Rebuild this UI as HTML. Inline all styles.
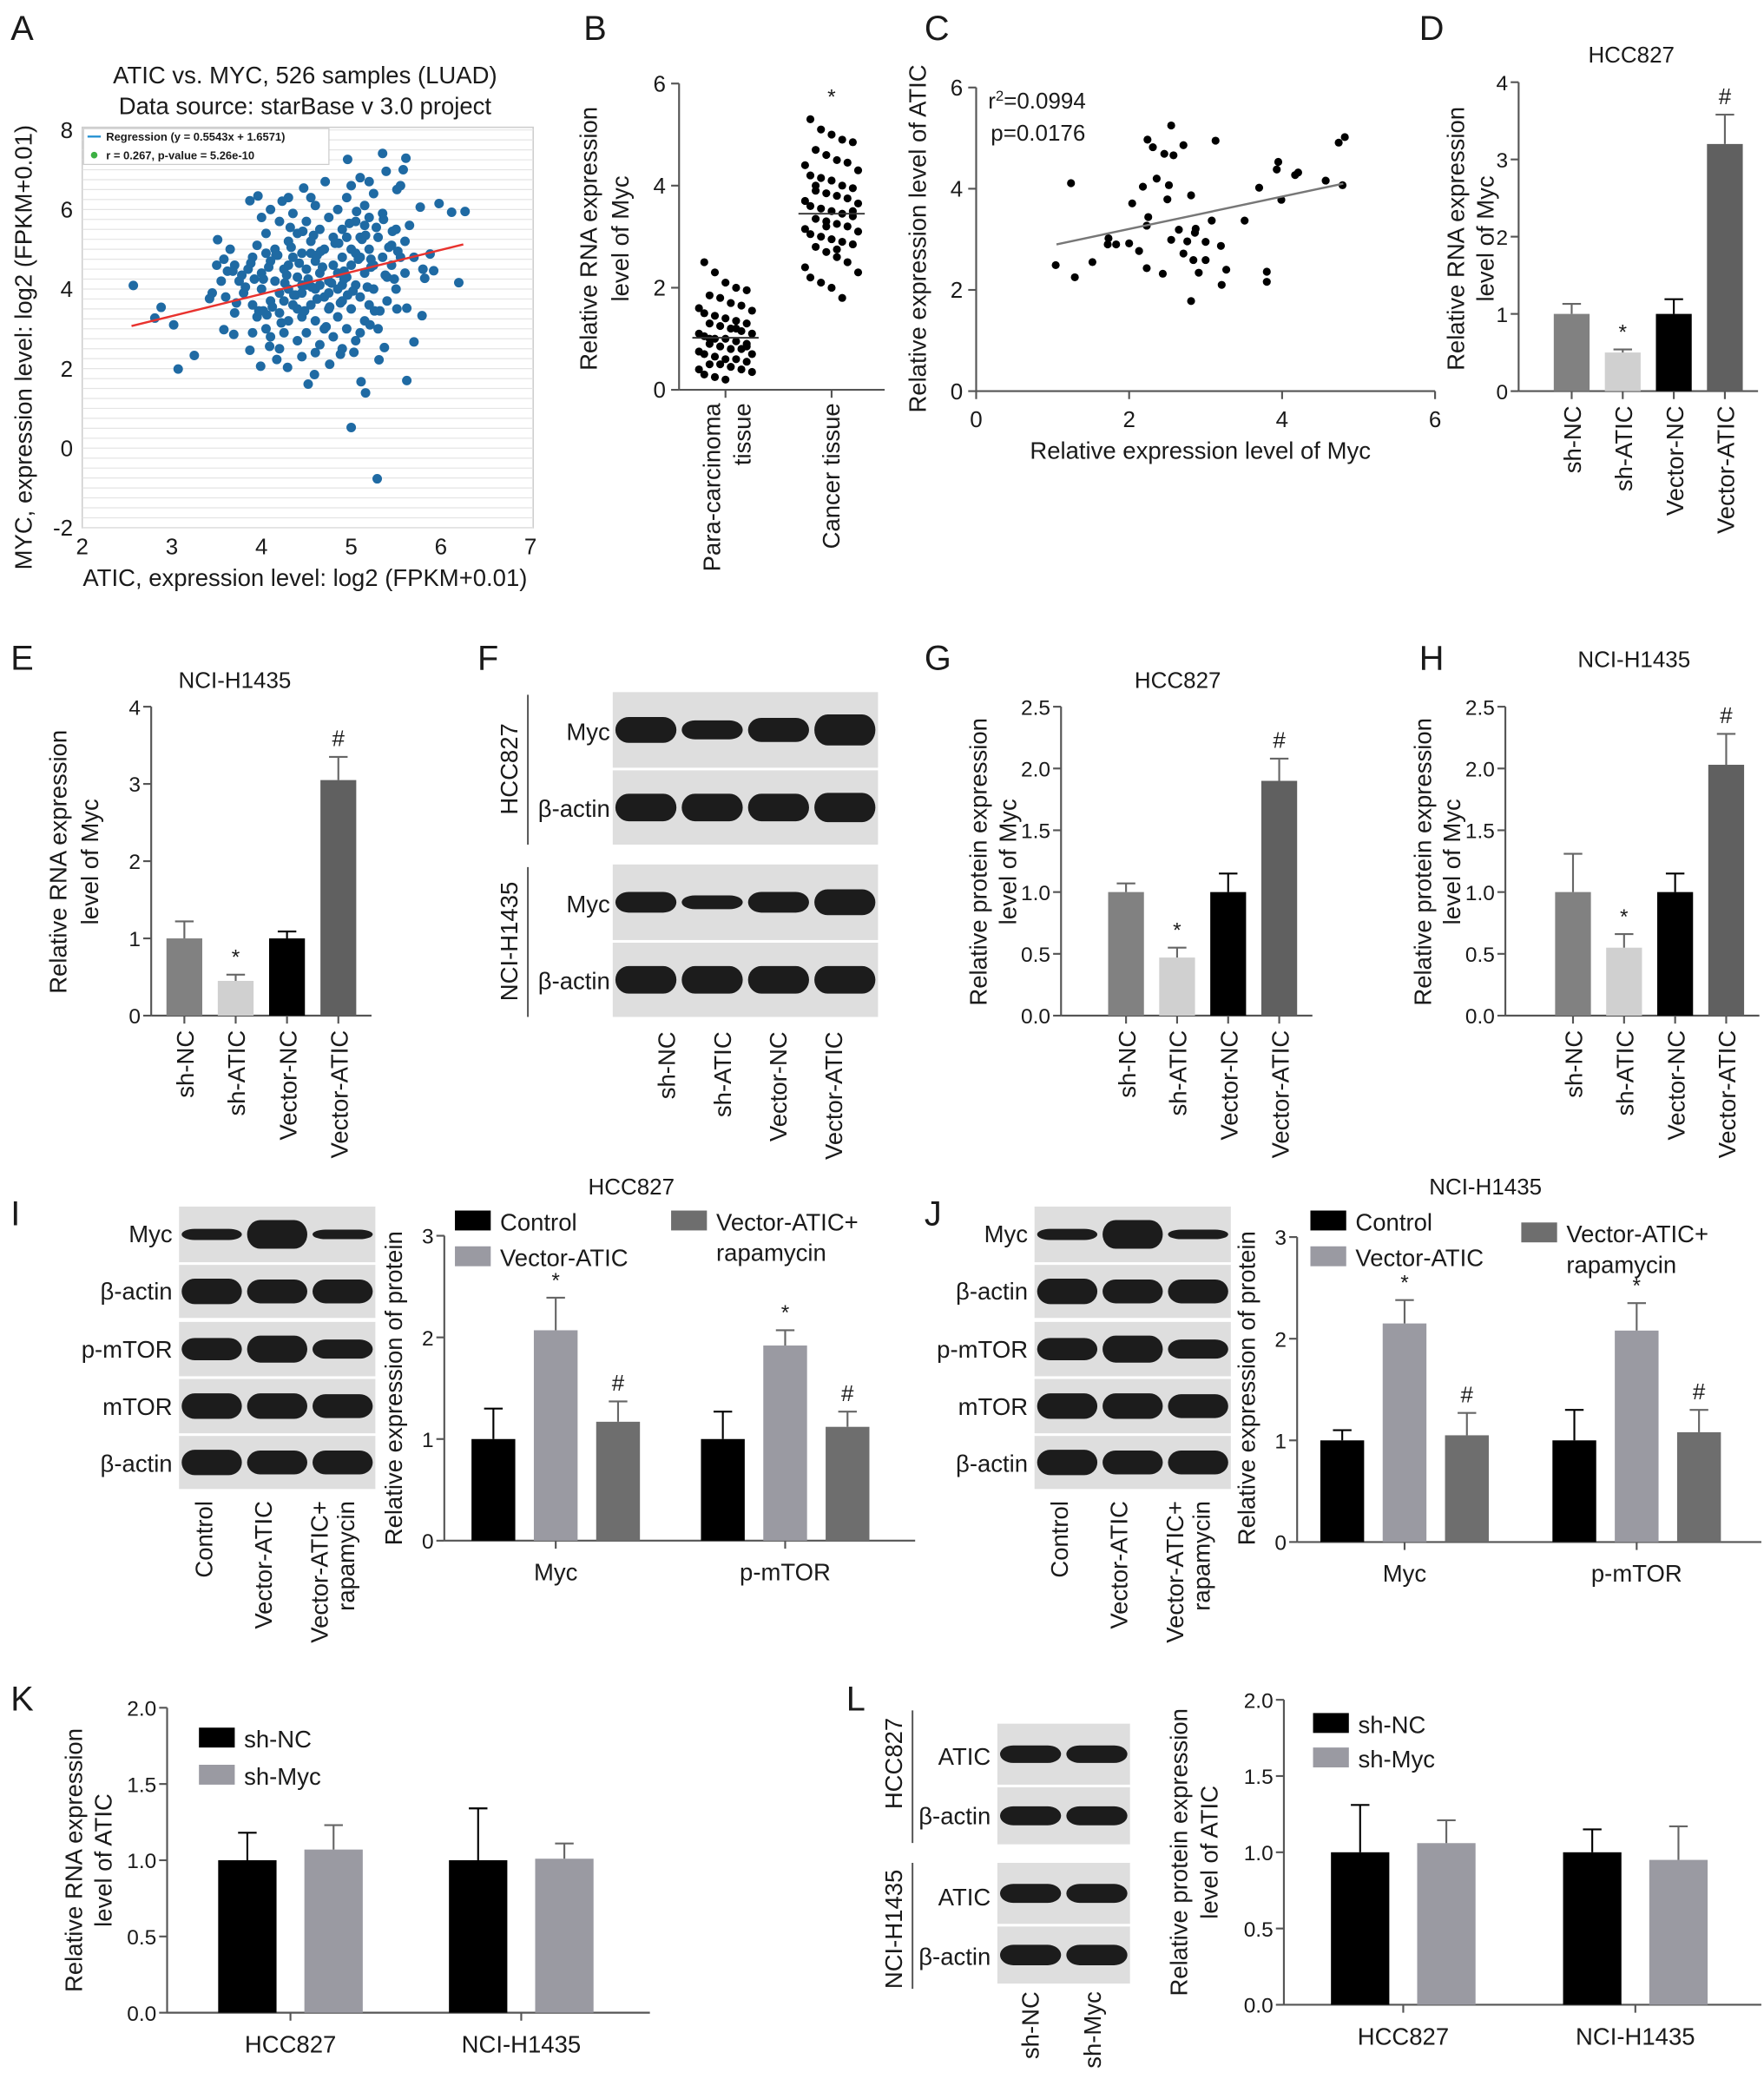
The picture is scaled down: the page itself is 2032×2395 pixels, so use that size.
<!DOCTYPE html>
<html><head><meta charset="utf-8"><style>
html,body{margin:0;padding:0;background:#fff}
svg{display:block}
text{font-family:"Liberation Sans",Arial,sans-serif;fill:#1a1a1a}
</style></head><body>
<svg id="fig" xmlns="http://www.w3.org/2000/svg" width="2032" height="2395" viewBox="0 0 1330 1568" preserveAspectRatio="none"></svg>
<script>
// ---------- DATA ----------
const aOutX=[2.57,2.81,2.88,3.02,3.07,3.25,3.51,3.42,3.58,3.69,3.87,3.96,3.99,4.23,4.47,4.52,4.59,4.71,4.96,5.0,5.11,5.16,5.35,5.39,5.58,5.61,5.29,5.62,5.7,5.79,5.77,5.98,6.12,6.27,6.2,5.92,5.88,5.82,5.62,5.51,5.37,5.31,5.21,5.03,4.88,4.76,4.29,4.17,4.09,3.87,5.51,5.55];
const aOutY=[4.09,3.27,3.54,3.1,1.99,2.33,5.24,3.76,2.98,2.86,6.22,6.34,2.06,6.21,6.54,1.61,1.85,6.7,7.26,0.52,1.67,1.39,7.41,6.96,7.0,7.29,-0.77,1.7,2.67,3.33,6.06,6.15,5.93,5.95,4.16,4.46,4.88,4.27,3.52,3.5,2.53,2.22,3.1,2.41,2.36,2.11,2.03,2.23,2.56,2.46,6.5,6.6];
const aCoreX=[3.75,3.8,3.85,3.9,3.9,3.95,3.95,4.0,4.0,4.05,4.05,4.1,4.1,4.1,4.15,4.15,4.2,4.2,4.2,4.25,4.25,4.3,4.3,4.3,4.35,4.35,4.35,4.4,4.4,4.4,4.45,4.45,4.45,4.5,4.5,4.5,4.5,4.55,4.55,4.6,4.6,4.6,4.6,4.65,4.65,4.65,4.7,4.7,4.7,4.75,4.75,4.75,4.8,4.8,4.8,4.85,4.85,4.85,4.9,4.9,4.9,4.95,4.95,4.95,5.0,5.0,5.0,5.05,5.05,5.05,5.1,5.1,5.1,5.15,5.15,5.15,5.2,5.2,5.2,5.25,5.25,5.25,5.3,5.3,5.35,5.35,5.4,5.4,5.45,5.45,5.5,5.5,5.55,5.6,5.6,3.5,3.55,3.6,3.65,3.7,3.45,3.7,4.0,4.1,4.3,4.55,5.0,5.1,5.2,4.2,4.45,4.6,4.9,5.1,5.7,5.8,5.65,3.9,4.05,4.3,4.55,4.65,4.85,4.95,5.15,4.45,4.75,4.25,4.9,5.05,4.4,
3.82,3.88,3.97,4.02,4.08,4.12,4.18,4.22,4.28,4.33,4.38,4.42,4.48,4.52,4.58,4.62,4.68,4.72,4.78,4.82,4.88,4.92,4.98,5.02,5.08,5.12,5.18,5.22,5.28,5.32,5.38,5.42,5.48,5.52,3.62,3.72,3.78,3.92,4.06,4.16,4.26,4.36,4.46,4.56,4.66,4.76,4.86,4.96,5.06,5.16,5.26,5.36,5.46,3.58,3.68,4.02,4.32,4.62,4.92,5.22];
const aCoreY=[4.2,3.9,4.5,3.6,4.8,3.3,5.1,4.0,4.4,3.0,5.4,3.7,4.7,2.8,5.0,4.2,3.4,5.7,3.9,4.5,2.9,5.2,4.0,3.2,4.8,5.9,3.6,4.3,2.7,5.4,3.9,4.9,3.3,4.5,5.7,2.9,4.1,3.6,5.2,4.7,3.2,6.1,4.0,2.6,5.5,4.4,3.8,5.0,3.0,4.2,5.8,3.5,4.6,2.8,5.3,4.0,3.3,6.0,4.8,3.7,5.5,4.3,3.0,6.3,5.0,4.6,3.5,5.7,4.1,2.7,4.8,5.3,3.8,6.1,4.4,3.2,5.0,5.8,3.6,4.6,6.4,4.0,5.3,3.0,4.8,5.9,4.3,3.7,5.1,4.6,5.5,4.0,4.8,5.2,4.4,4.6,4.2,3.8,5.0,4.6,3.9,3.4,5.8,6.0,6.3,6.3,6.6,6.8,6.7,2.5,2.3,2.4,2.5,2.9,4.8,4.5,5.6,2.9,4.9,4.6,4.9,4.1,4.4,5.3,5.6,4.1,3.9,3.7,4.1,4.9,3.5,
4.05,4.65,3.45,4.25,4.55,3.55,4.85,3.15,4.35,5.05,3.85,4.65,3.45,4.25,5.35,3.75,4.55,3.05,4.15,5.15,3.65,4.45,5.65,3.95,4.75,5.25,4.05,4.55,5.55,3.45,4.35,5.05,4.25,4.95,4.45,3.65,4.35,4.25,3.35,4.85,4.15,3.85,5.45,4.05,4.95,3.55,5.15,3.85,5.95,5.35,3.45,5.75,5.45,4.75,4.45,3.45,5.55,4.85,4.25,4.75];
const aRegX=[2.55,6.25];
const aTicksX=[2,3,4,5,6,7];
const aTicksY=[-2,0,2,4,6,8];

const bPara=[2.5,2.3,2.1,2.0,1.95,1.85,1.8,1.7,1.65,1.6,1.55,1.5,1.45,1.4,1.35,1.3,1.3,1.25,1.2,1.15,1.1,1.1,1.05,1.0,1.0,0.95,0.9,0.9,0.85,0.8,0.8,0.75,0.7,0.7,0.65,0.6,0.6,0.55,0.5,0.5,0.45,0.4,0.4,0.35,0.3,0.25,0.2,1.2,0.85,1.0];
const bCancer=[5.3,5.1,5.0,4.9,4.85,4.7,4.6,4.5,4.45,4.4,4.3,4.2,4.15,4.1,4.0,3.95,3.9,3.85,3.8,3.75,3.7,3.65,3.6,3.55,3.5,3.45,3.4,3.35,3.3,3.25,3.2,3.15,3.1,3.05,3.0,2.95,2.9,2.85,2.8,2.7,2.6,2.5,2.4,2.3,2.2,2.1,2.0,1.8,3.5,4.0,3.2,2.75];
const bMeans=[1.02,3.45];
const bTicks=[0,2,4,6];

const cX=[1.04,1.29,1.24,1.52,1.73,1.72,1.83,2.0,2.04,2.13,2.18,2.23,2.25,2.23,2.24,2.31,2.36,2.44,2.46,2.5,2.52,2.55,2.55,2.58,2.65,2.71,2.71,2.76,2.81,2.81,2.84,2.86,2.87,2.91,3.0,3.0,3.08,3.13,3.2,3.21,3.27,3.51,3.7,3.8,3.8,3.93,3.95,3.99,4.17,4.21,4.57,4.74,4.79,4.82];
const cY=[2.49,2.25,4.11,2.55,3.02,2.9,2.9,2.92,3.71,2.77,4.04,3.27,3.44,2.43,4.97,4.82,4.2,2.32,4.69,3.79,4.07,2.99,5.25,4.66,3.19,4.86,2.72,2.96,3.87,1.78,2.59,3.13,3.21,2.34,2.95,2.59,3.37,4.95,2.87,2.1,2.4,3.37,4.02,2.36,2.16,4.38,4.53,3.78,4.27,4.32,4.16,4.91,4.07,5.02];
const cFitX=[1.05,4.8];
const cFitY=[2.9,4.1];
const cTicks=[0,2,4,6];

const catsKO=["sh-NC","sh-ATIC","Vector-NC","Vector-ATIC"];
const dVals=[1.0,0.5,1.0,3.2];
const dErr=[0.13,0.04,0.19,0.38];
const eVals=[1.0,0.45,1.0,3.05];
const eErr=[0.22,0.08,0.09,0.3];
const gVals=[1.0,0.47,1.0,1.9];
const gErr=[0.07,0.08,0.15,0.18];
const hVals=[1.0,0.55,1.0,2.03];
const hErr=[0.31,0.11,0.15,0.25];
const koMarks=["","*","","#"];
const ticks04=["0","1","2","3","4"];
const ticks25=["0.0","0.5","1.0","1.5","2.0","2.5"];

const groupsIJ=["Myc","p-mTOR"];
const seriesIJ=["Control","Vector-ATIC","Vector-ATIC+ rapamycin"];
const iCtrl=[1.0,1.0], iVA=[2.07,1.92], iVAR=[1.17,1.12];
const iCtrlE=[0.3,0.27], iVAE=[0.32,0.15], iVARE=[0.2,0.15];
const jCtrl=[1.0,1.0], jVA=[2.15,2.08], jVAR=[1.05,1.08];
const jCtrlE=[0.1,0.3], jVAE=[0.23,0.27], jVARE=[0.22,0.22];
const ticks03=["0","1","2","3"];

const groupsKL=["HCC827","NCI-H1435"];
const kNC=[1.0,1.0], kMyc=[1.07,1.01];
const kNCE=[0.18,0.34], kMycE=[0.16,0.1];
const lNC=[1.0,1.0], lMyc=[1.06,0.95];
const lNCE=[0.31,0.15], lMycE=[0.15,0.22];
const ticks20=["0.0","0.5","1.0","1.5","2.0"];

// ---------- HELPERS ----------
const NS='http://www.w3.org/2000/svg';
const svg=document.getElementById('fig');
function mk(tag,attrs,parent){const e=document.createElementNS(NS,tag);for(const k in attrs)e.setAttribute(k,attrs[k]);(parent||svg).appendChild(e);return e;}
function lin(d0,d1,r0,r1){return v=>r0+(v-d0)*(r1-r0)/(d1-d0);}
function txt(x,y,s,size,anchor,rot,name){
  const t=mk('text',{x:x,y:y,'font-size':size,'text-anchor':anchor||'middle'});
  if(rot)t.setAttribute('transform','rotate('+rot+' '+x+' '+y+')');
  t.textContent=s;
  
  
  return t;
}
function line(x1,y1,x2,y2,col,w,name){
  const l=mk('line',{x1:x1,y1:y1,x2:x2,y2:y2,stroke:col||'#333','stroke-width':w||1.3});
  
  
  return l;
}
function yAxis(x0,yS,labels,maxV,name){
  line(x0,yS(0),x0,yS(maxV),'#555',1.4,name+'-y-axis');
  labels.forEach((lab,i)=>{const v=maxV*i/(labels.length-1);const y=yS(v);
    line(x0-6,y,x0,y,'#555',1.4,name+'-y-tick');
    txt(x0-8,y+6,lab,16,'end',0,name+'-y-tick-label');});
}
function bar(x,w,yS,v,e,col,name){
  const r=mk('rect',{x:x-w/2,y:yS(v),width:w,height:yS(0)-yS(v),fill:col});
  
  
  const ye=yS(v+e);
  line(x,yS(v),x,ye,col==='#000'?'#000':'#666',1.4,name+'-error-bar');
  line(x-7,ye,x+7,ye,col==='#000'?'#000':'#666',1.4,name+'-error-cap');
}
function koChart(name,x0,y0,vals,errs,labels,maxV,tickLabs,step,offs){
  const yS=lin(0,maxV,y0,y0-233);
  const cols=['#818181','#d0d0d0','#000','#606060'];
  yAxis(x0,yS,tickLabs,maxV,name);
  const xEnd=x0+offs+step*3+25;
  line(x0,y0,xEnd,y0,'#555',1.4,name+'-x-axis');
  vals.forEach((v,i)=>{const cx=x0+offs+i*step;
    bar(cx,27,yS,v,errs[i],cols[i],name+'-bar-'+labels[i].toLowerCase());
    line(cx,y0,cx,y0+6,'#555',1.4,name+'-x-tick');
    txt(cx+7,y0+11,labels[i],18,'end',-90,name+'-x-label');
    if(koMarks[i])txt(cx,yS(v+errs[i])-8,koMarks[i],koMarks[i]==='*'?16:17,'middle',0,name+'-significance');
  });
}
function blot(name,x,y,w,h,bands,bandH){
  const g=mk('g',{});
  
  
  const r=mk('rect',{x:x,y:y,width:w,height:h,fill:'#dedede'},g);
  
  
  const n=bands.length, lw=w/n;
  bands.forEach((b,i)=>{
    const bh=bandH*b;
    const el=mk('rect',{x:x+lw*(i+0.5)-lw*0.46,y:y+h/2-bh/2,width:lw*0.92,height:bh,rx:lw*0.2,ry:bh/2,fill:'#1c1c1c'},g);
    
    
  });
}
function groupChart(name,x0,y0,maxV,tickLabs,hpx,series,errsA,cols,groups,gCenters,bw,gap,xEnd,marks){
  const yS=lin(0,maxV,y0,y0-hpx);
  yAxis(x0,yS,tickLabs,maxV,name);
  line(x0,y0,xEnd,y0,'#555',1.4,name+'-x-axis');
  groups.forEach((gname,gi)=>{
    const gc=gCenters[gi];
    series.forEach((s,si)=>{
      const cx=gc+(si-(series.length-1)/2)*gap;
      bar(cx,bw,yS,s[gi],errsA[si][gi],cols[si],name+'-bar-'+gname.toLowerCase()+'-'+si);
      if(marks&&marks[si])txt(cx,yS(s[gi]+errsA[si][gi])-8,marks[si],marks[si]==='*'?16:17,'middle',0,name+'-significance');
    });
    line(gc,y0,gc,y0+6,'#555',1.4,name+'-x-tick');
    txt(gc,y0+30,gname,18,'middle',0,name+'-x-label');
  });
}
function legendItem(name,x,y,col,label,label2){
  const r=mk('rect',{x:x,y:y,width:27,height:15,fill:col});
  
  
  txt(x+34,y+15,label,18,'start',0,name+'-text');
  if(label2)txt(x+34,y+38,label2,18,'start',0,name+'-text');
}

// ---------- PANEL LETTERS ----------
[['A',8,30],['B',440,30],['C',697,30],['D',1070,30],['E',8,505],['F',360,505],['G',697,505],['H',1070,505],['I',8,924],['J',697,924],['K',8,1290],['L',638,1290]].forEach(p=>txt(p[1],p[2],p[0],26,'start',0,'panel-letter-'+p[0].toLowerCase()));

// ---------- PANEL A ----------
(function(){
  const xS=lin(2,7,62,400), yS=lin(-2,8,398,98);
  const fr=mk('rect',{x:62,y:96,width:340,height:302,fill:'#fff',stroke:'#ccc','stroke-width':1});
  
  
  for(let v=-2;v<=8;v+=0.25){line(62,yS(v),402,yS(v),'#e4e4e4',0.8,'a-gridline');}
  aTicksX.forEach(v=>txt(xS(v),418,String(v),17,'middle',0,'a-x-tick-label'));
  aTicksY.forEach(v=>txt(55,yS(v)+6,String(v),17,'end',0,'a-y-tick-label'));
  const dot=(x,y)=>{const c=mk('circle',{cx:xS(x),cy:yS(y),r:3.6,fill:'#1f6aa3'});
    
    };
  aCoreX.forEach((x,i)=>dot(x,aCoreY[i]));
  aOutX.forEach((x,i)=>dot(x,aOutY[i]));
  const f=x=>0.5543*x+1.6571;
  line(xS(aRegX[0]),yS(f(aRegX[0])),xS(aRegX[1]),yS(f(aRegX[1])),'#e8322e',1.6,'a-regression-line');
  const lb=mk('rect',{x:63,y:97,width:185,height:27,fill:'#fff',stroke:'#ccc','stroke-width':0.8});
  
  
  line(66,103,76,103,'#1f8fd1',1.5,'a-legend-regression-swatch');
  const t1=txt(80,106,'Regression (y = 0.5543x + 1.6571)',8.5,'start',0,'a-legend-regression');
  t1.setAttribute('font-family','Liberation Serif, serif');t1.setAttribute('font-weight','bold');t1.setAttribute('fill','#555');
  const gc=mk('circle',{cx:71,cy:117,r:2.5,fill:'#3cb043'});
  
  
  const t2=txt(80,120,'r = 0.267, p-value = 5.26e-10',8.5,'start',0,'a-legend-correlation');
  t2.setAttribute('font-family','Liberation Serif, serif');t2.setAttribute('font-weight','bold');t2.setAttribute('fill','#555');
  txt(230,63,'ATIC vs. MYC, 526 samples (LUAD)',18,'middle',0,'a-title');
  txt(230,86,'Data source: starBase v 3.0 project',18,'middle',0,'a-subtitle');
  txt(230,442,'ATIC, expression level: log2 (FPKM+0.01)',18,'middle',0,'a-x-axis-title');
  txt(24,262,'MYC, expression level: log2 (FPKM+0.01)',18,'middle',-90,'a-y-axis-title');
})();

// ---------- PANEL B ----------
(function(){
  const yS=lin(0,6,294,63);
  const x0=512;
  line(x0,294,x0,63,'#555',1.4,'b-y-axis');
  bTicks.forEach(v=>{line(x0-6,yS(v),x0,yS(v),'#555',1.4,'b-y-tick');txt(x0-10,yS(v)+6,String(v),17,'end',0,'b-y-tick-label');});
  line(x0,294,667,294,'#555',1.4,'b-x-axis');
  const jit=[-16,-8,0,8,16,-12,-4,4,12,-20,20];
  const centers=[547,627];
  [bPara,bCancer].forEach((arr,gi)=>{
    arr.forEach((v,i)=>{const c=mk('circle',{cx:centers[gi]+jit[i%jit.length],cy:yS(v),r:3,fill:'#000'});
      
      });
    line(centers[gi]-25,yS(bMeans[gi]),centers[gi]+25,yS(bMeans[gi]),'#333',1.3,'b-mean-line');
    line(centers[gi],294,centers[gi],300,'#555',1.4,'b-x-tick');
  });
  txt(627,yS(5.6),'*',16,'middle',0,'b-significance');
  txt(543,304,'Para-carcinoma',18,'end',-90,'b-x-label');
  txt(566,304,'tissue',18,'end',-90,'b-x-label');
  txt(633,304,'Cancer tissue',18,'end',-90,'b-x-label');
  txt(450,180,'Relative RNA expression',18,'middle',-90,'b-y-axis-title');
  txt(474,180,'level of Myc',18,'middle',-90,'b-y-axis-title');
})();

// ---------- PANEL C ----------
(function(){
  const xS=lin(0,6,736,1082), yS=lin(0,6,295,66);
  line(736,295,736,66,'#555',1.4,'c-y-axis');
  line(736,295,1082,295,'#555',1.4,'c-x-axis');
  cTicks.forEach(v=>{line(730,yS(v),736,yS(v),'#555',1.4,'c-y-tick');txt(726,yS(v)+6,String(v),17,'end',0,'c-y-tick-label');
    line(xS(v),295,xS(v),301,'#555',1.4,'c-x-tick');txt(xS(v),322,String(v),17,'middle',0,'c-x-tick-label');});
  cX.forEach((x,i)=>{const c=mk('circle',{cx:xS(x),cy:yS(cY[i]),r:3,fill:'#000'});
    
    });
  line(xS(cFitX[0]),yS(cFitY[0]),xS(cFitX[1]),yS(cFitY[1]),'#777',1.6,'c-fit-line');
  const t=txt(745,82,'r',17,'start',0,'c-r-squared');
  const ts=mk('tspan',{dy:-6,'font-size':11},t);ts.textContent='2';
  const ts2=mk('tspan',{dy:6},t);ts2.textContent='=0.0994';
  txt(747,106,'p=0.0176',17,'start',0,'c-p-value');
  txt(905,346,'Relative expression level of Myc',18,'middle',0,'c-x-axis-title');
  txt(698,180,'Relative expression level of ATIC',18,'middle',-90,'c-y-axis-title');
})();

// ---------- PANELS D, E, G, H ----------
koChart('d',1145,295,dVals,dErr,catsKO,4,ticks04,38.5,40);
txt(1230,47,'HCC827',17,'middle',0,'d-title');
txt(1104,180,'Relative RNA expression',18,'middle',-90,'d-y-axis-title');
txt(1126,180,'level of Myc',18,'middle',-90,'d-y-axis-title');

koChart('e',114,766,eVals,eErr,catsKO,4,ticks04,38.7,25);
txt(177,519,'NCI-H1435',17,'middle',0,'e-title');
txt(50,650,'Relative RNA expression',18,'middle',-90,'e-y-axis-title');
txt(74,650,'level of Myc',18,'middle',-90,'e-y-axis-title');

koChart('g',800,766,gVals,gErr,catsKO,2.5,ticks25,38.5,49);
txt(888,519,'HCC827',17,'middle',0,'g-title');
txt(744,650,'Relative protein expression',18,'middle',-90,'g-y-axis-title');
txt(766,650,'level of Myc',18,'middle',-90,'g-y-axis-title');

koChart('h',1135,766,hVals,hErr,catsKO,2.5,ticks25,38.5,51);
txt(1232,503,'NCI-H1435',17,'middle',0,'h-title');
txt(1079,650,'Relative protein expression',18,'middle',-90,'h-y-axis-title');
txt(1101,650,'level of Myc',18,'middle',-90,'h-y-axis-title');

// ---------- PANEL F (blots) ----------
blot('f-hcc827-myc',462,522,200,57,[0.75,0.55,0.7,0.9],26);
blot('f-hcc827-actin',462,581,200,56,[0.8,0.8,0.8,0.85],26);
blot('f-h1435-myc',462,652,200,57,[0.6,0.4,0.6,0.75],26);
blot('f-h1435-actin',462,711,200,56,[0.8,0.8,0.8,0.8],26);
txt(460,558,'Myc',18,'end',0,'f-label-myc');
txt(460,616,'β-actin',18,'end',0,'f-label-actin');
txt(460,688,'Myc',18,'end',0,'f-label-myc');
txt(460,746,'β-actin',18,'end',0,'f-label-actin');
line(398,524,398,637,'#555',1.3,'f-group-bracket');
line(398,654,398,767,'#555',1.3,'f-group-bracket');
txt(390,580,'HCC827',18,'middle',-90,'f-group-label');
txt(390,710,'NCI-H1435',18,'middle',-90,'f-group-label');
catsKO.forEach((c,i)=>txt(509+i*42,778,c,18,'end',-90,'f-lane-label'));

// ---------- PANELS I, J ----------
function ijBlots(p,x){
  blot(p+'-myc',x,910,148,42,[0.35,0.9,0.3],24);
  blot(p+'-actin1',x,954,148,40,[0.8,0.75,0.75],24);
  blot(p+'-pmtor',x,997,148,41,[0.7,0.85,0.6],24);
  blot(p+'-mtor',x,1040,148,41,[0.8,0.8,0.75],24);
  blot(p+'-actin2',x,1083,148,40,[0.8,0.75,0.75],24);
  [['Myc',937],['β-actin',980],['p-mTOR',1024],['mTOR',1067],['β-actin',1110]].forEach(l=>txt(x-5,l[1],l[0],18,'end',0,p+'-blot-label'));
  txt(x+25,1132,'Control',18,'end',-90,p+'-lane-label');
  txt(x+70,1132,'Vector-ATIC',18,'end',-90,p+'-lane-label');
  txt(x+112,1132,'Vector-ATIC+',18,'end',-90,p+'-lane-label');
  txt(x+132,1132,'rapamycin',18,'end',-90,p+'-lane-label');
}
ijBlots('i',135);
ijBlots('j',780);
const colsIJ=['#000','#9a9aa2','#6e6e6e'];
groupChart('i',335,1162,3,ticks03,230,[iCtrl,iVA,iVAR],[iCtrlE,iVAE,iVARE],colsIJ,groupsIJ,[419,592],33,47,690,['','*','#']);
txt(476,901,'HCC827',17,'middle',0,'i-title');
txt(303,1047,'Relative expression of protein',18,'middle',-90,'i-y-axis-title');
legendItem('i-legend-control',343,913,colsIJ[0],seriesIJ[0]);
legendItem('i-legend-vector-atic',343,940,colsIJ[1],seriesIJ[1]);
legendItem('i-legend-rapamycin',506,913,colsIJ[2],'Vector-ATIC+','rapamycin');

groupChart('j',978,1163,3,ticks03,230,[jCtrl,jVA,jVAR],[jCtrlE,jVAE,jVARE],colsIJ,groupsIJ,[1059,1234],33,47,1328,['','*','#']);
txt(1120,901,'NCI-H1435',17,'middle',0,'j-title');
txt(946,1047,'Relative expression of protein',18,'middle',-90,'j-y-axis-title');
legendItem('j-legend-control',988,913,colsIJ[0],seriesIJ[0]);
legendItem('j-legend-vector-atic',988,940,colsIJ[1],seriesIJ[1]);
legendItem('j-legend-rapamycin',1147,922,colsIJ[2],'Vector-ATIC+','rapamycin');

// ---------- PANEL K ----------
const colsKL=['#000','#9a9aa2'];
groupChart('k',126,1518,2,ticks20,230,[kNC,kMyc],[kNCE,kMycE],colsKL,groupsKL,[219,393],44,65,490,null);
txt(62,1403,'Relative RNA expression',18,'middle',-90,'k-y-axis-title');
txt(84,1403,'level of ATIC',18,'middle',-90,'k-y-axis-title');
legendItem('k-legend-sh-nc',150,1303,colsKL[0],'sh-NC');
legendItem('k-legend-sh-myc',150,1331,colsKL[1],'sh-Myc');

// ---------- PANEL L ----------
blot('l-hcc827-atic',752,1300,100,46,[0.6,0.6],22);
blot('l-hcc827-actin',752,1348,100,43,[0.65,0.65],22);
blot('l-h1435-atic',752,1405,100,46,[0.65,0.65],22);
blot('l-h1435-actin',752,1453,100,43,[0.7,0.7],22);
txt(747,1331,'ATIC',18,'end',0,'l-blot-label');
txt(747,1376,'β-actin',18,'end',0,'l-blot-label');
txt(747,1437,'ATIC',18,'end',0,'l-blot-label');
txt(747,1482,'β-actin',18,'end',0,'l-blot-label');
line(688,1290,688,1390,'#555',1.3,'l-group-bracket');
line(688,1405,688,1500,'#555',1.3,'l-group-bracket');
txt(680,1330,'HCC827',18,'middle',-90,'l-group-label');
txt(680,1455,'NCI-H1435',18,'middle',-90,'l-group-label');
txt(783,1502,'sh-NC',18,'end',-90,'l-lane-label');
txt(830,1502,'sh-Myc',18,'end',-90,'l-lane-label');
groupChart('l',968,1512,2,ticks20,230,[lNC,lMyc],[lNCE,lMycE],colsKL,groupsKL,[1058,1233],44,65,1328,null);
txt(895,1397,'Relative protein expression',18,'middle',-90,'l-y-axis-title');
txt(918,1397,'level of ATIC',18,'middle',-90,'l-y-axis-title');
legendItem('l-legend-sh-nc',990,1292,colsKL[0],'sh-NC');
legendItem('l-legend-sh-myc',990,1318,colsKL[1],'sh-Myc');
</script>
</body></html>
